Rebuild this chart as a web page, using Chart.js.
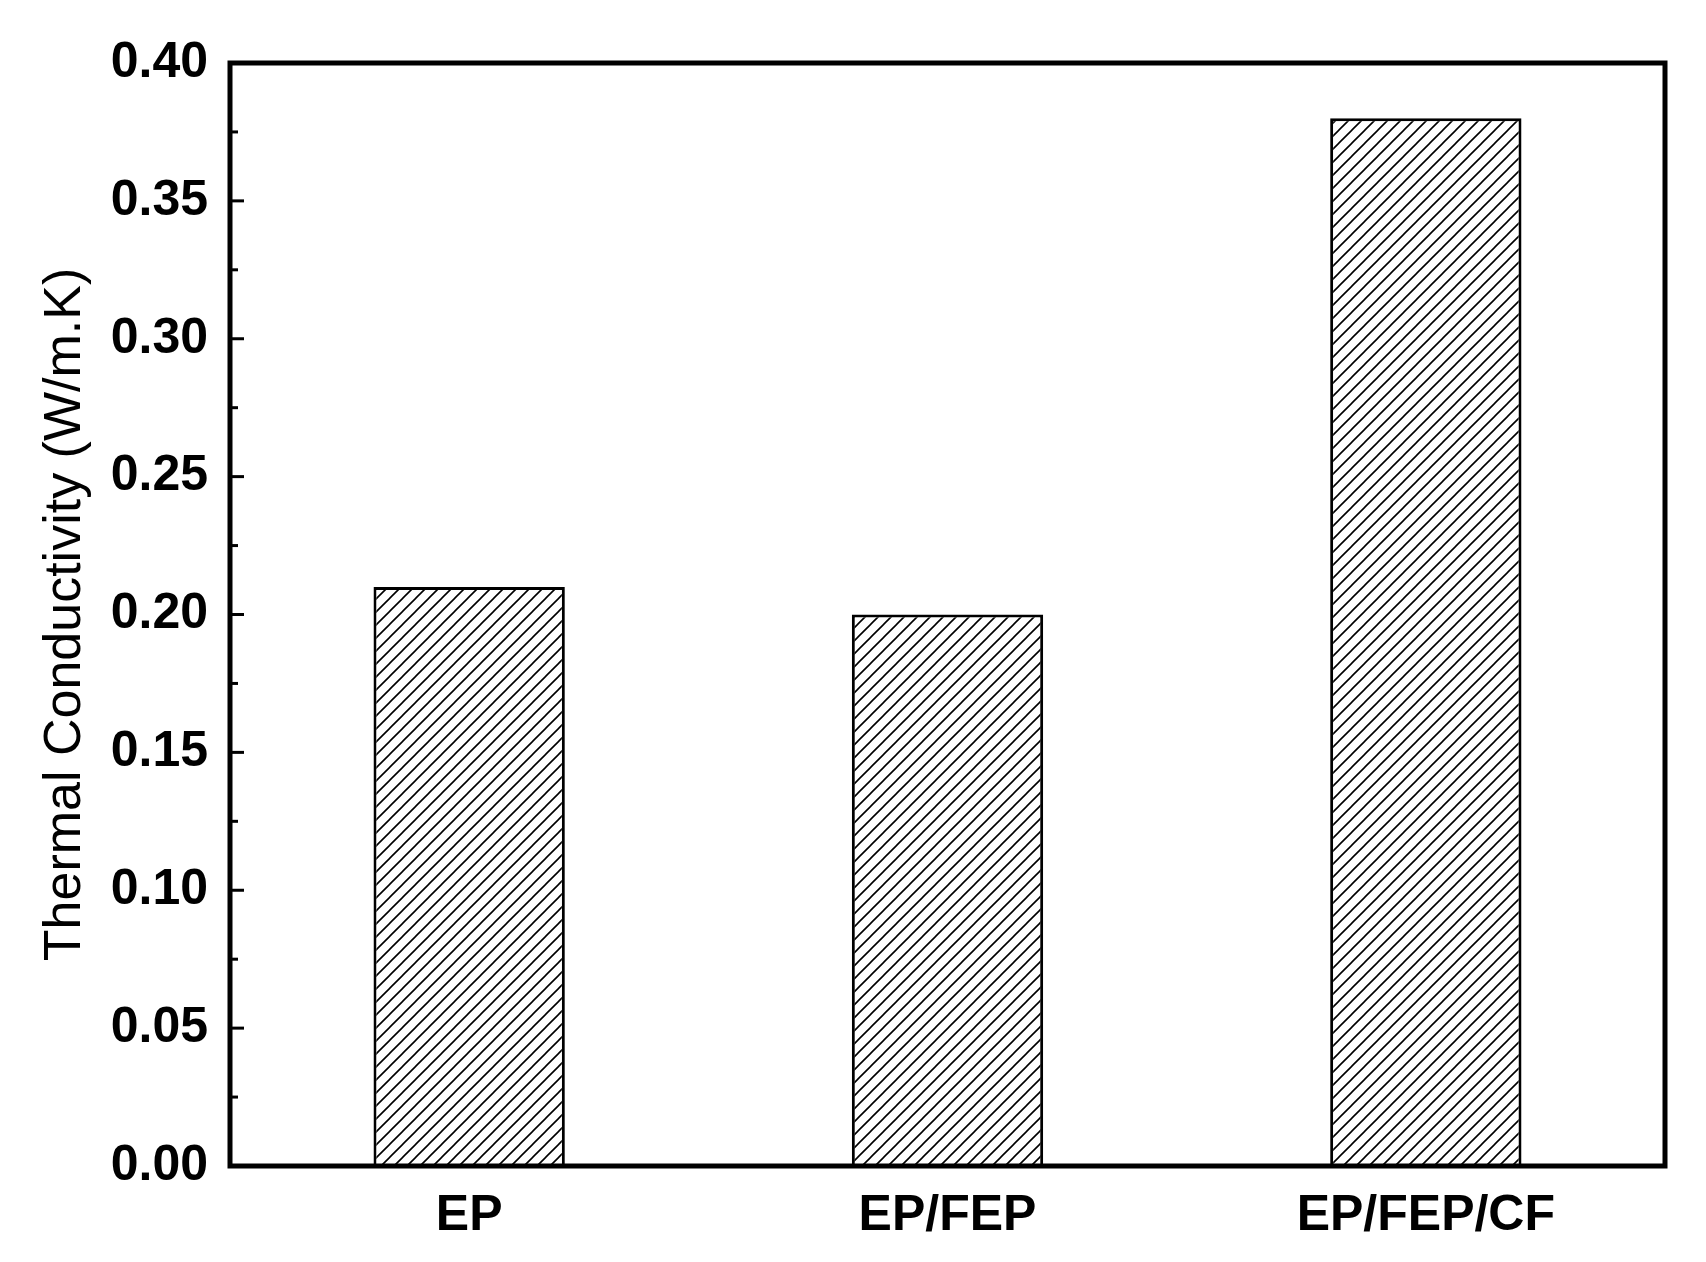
<!DOCTYPE html>
<html><head><meta charset="utf-8">
<script src="https://cdn.jsdelivr.net/npm/chart.js@4"></script>
<style>html,body{margin:0;padding:0;background:#fff}</style>
</head><body>
<canvas id="c" width="1706" height="1262"></canvas>
<script>
const categories = ["EP", "EP/FEP", "EP/FEP/CF"];
const conductivity = [0.21, 0.20, 0.38];
const yTickValues = [0, 0.05, 0.10, 0.15, 0.20, 0.25, 0.30, 0.35, 0.40];

function hatch() {
  const s = 13, c = document.createElement('canvas');
  c.width = s; c.height = s;
  const g = c.getContext('2d');
  g.fillStyle = '#fff'; g.fillRect(0, 0, s, s);
  g.strokeStyle = '#000'; g.lineWidth = 1.6;
  g.beginPath();
  g.moveTo(-1, s + 1); g.lineTo(s + 1, -1);
  g.moveTo(-1, 1); g.lineTo(1, -1);
  g.moveTo(s - 1, s + 1); g.lineTo(s + 1, s - 1);
  g.stroke();
  return g.createPattern(c, 'repeat');
}

const frame = {
  id: 'frame',
  afterDraw(chart) {
    const { ctx, chartArea: a, scales: { y } } = chart;
    ctx.save();
    ctx.strokeStyle = '#000';
    ctx.lineWidth = 3;
    for (let v = 0; v <= 0.4001; v += 0.025) {
      const py = y.getPixelForValue(v);
      const major = Math.round(v / 0.025) % 2 === 0;
      ctx.beginPath();
      ctx.moveTo(a.left, py); ctx.lineTo(a.left + (major ? 14 : 8), py);
      ctx.stroke();
    }
    ctx.lineWidth = 5;
    ctx.strokeRect(a.left, a.top, a.right - a.left, a.bottom - a.top);
    ctx.restore();
  }
};

new Chart(document.getElementById('c'), {
  type: 'bar',
  data: {
    labels: categories,
    datasets: [{
      data: conductivity,
      backgroundColor: hatch(),
      borderColor: '#000',
      borderWidth: 3,
      barPercentage: 0.4,
      categoryPercentage: 1.0
    }]
  },
  options: {
    responsive: false,
    animation: false,
    layout: { padding: { top: 63, right: 41, left: 34, bottom: 0 } },
    plugins: { legend: { display: false }, tooltip: { enabled: false } },
    scales: {
      x: {
        grid: { display: false, drawTicks: false },
        border: { display: false },
        ticks: { color: '#000', padding: 20, font: { family: 'Liberation Sans', weight: 'bold', size: 50 } },
        afterFit(s) { s.height = 96; }
      },
      y: {
        min: 0, max: 0.4,
        afterBuildTicks(s) { s.ticks = yTickValues.map(v => ({ value: v })); },
        grid: { display: false, drawTicks: false },
        border: { display: false },
        ticks: {
          color: '#000', padding: 22,
          font: { family: 'Liberation Sans', weight: 'bold', size: 50 },
          callback: v => Number(v).toFixed(2)
        },
        title: {
          display: true, text: 'Thermal Conductivity (W/m.K)', color: '#000',
          font: { family: 'Liberation Sans', size: 52 }, padding: { top: 0, bottom: 0 }
        },
        afterFit(s) { s.width = 196; }
      }
    }
  },
  plugins: [frame]
});
</script>
</body></html>
